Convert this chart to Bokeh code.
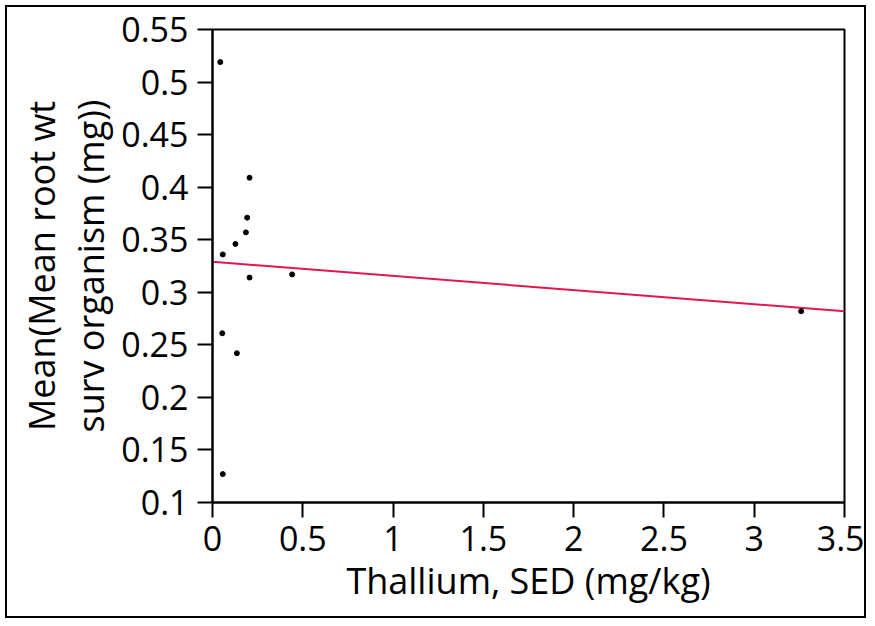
import numpy as np
from bokeh.plotting import figure
from bokeh.models import FixedTicker, Range1d
from bokeh.embed import file_html
from bokeh.resources import INLINE

# Data
thallium = [0.043, 0.205, 0.192, 0.185, 0.127, 0.057, 0.205, 0.441, 0.054, 0.135, 0.057, 3.26]
root_wt = [0.519, 0.409, 0.371, 0.357, 0.346, 0.336, 0.314, 0.317, 0.261, 0.242, 0.127, 0.282]

x_ticks = [0, 0.5, 1, 1.5, 2, 2.5, 3, 3.5]
x_tick_labels = ["0", "0.5", "1", "1.5", "2", "2.5", "3", "3.5"]
y_ticks = [0.1, 0.15, 0.2, 0.25, 0.3, 0.35, 0.4, 0.45, 0.5, 0.55]
y_tick_labels = ["0.1", "0.15", "0.2", "0.25", "0.3", "0.35", "0.4", "0.45", "0.5", "0.55"]

x_title = "Thallium, SED (mg/kg)"
y_title = "Mean(Mean root wt\nsurv organism (mg))"

FONT = "Open Sans"

p = figure(width=861, height=613, output_backend="svg", toolbar_location=None,
           x_range=Range1d(0, 3.5), y_range=Range1d(0.1, 0.55),
           min_border_left=205, min_border_right=24, min_border_top=22, min_border_bottom=118)
p.styles = {"border": "2px solid black", "margin": "5px"}
p.background_fill_color = "white"
p.border_fill_color = "white"
p.grid.visible = False
p.outline_line_color = "black"
p.outline_line_width = 2

for ax in (p.xaxis[0], p.yaxis[0]):
    ax.axis_line_width = 2
    ax.axis_line_color = "black"
    ax.major_tick_line_width = 2
    ax.major_tick_line_color = "black"
    ax.major_tick_out = 15
    ax.major_tick_in = 0
    ax.minor_tick_line_color = None
    ax.major_label_text_font = FONT
    ax.major_label_text_font_size = "34px"
    ax.major_label_text_color = "black"
    ax.axis_label_text_font = FONT
    ax.axis_label_text_font_size = "36px"
    ax.axis_label_text_font_style = "normal"
    ax.axis_label_text_color = "black"

p.yaxis[0].axis_label_text_line_height = 1.0

p.xaxis[0].ticker = FixedTicker(ticks=x_ticks)
p.xaxis[0].major_label_overrides = {t: l for t, l in zip(x_ticks, x_tick_labels)}
p.yaxis[0].ticker = FixedTicker(ticks=y_ticks)
p.yaxis[0].major_label_overrides = {t: l for t, l in zip(y_ticks, y_tick_labels)}
p.xaxis[0].axis_label = x_title
p.yaxis[0].axis_label = y_title
p.xaxis[0].major_label_standoff = 8
p.yaxis[0].major_label_standoff = 9
p.xaxis[0].axis_label_standoff = 2
p.yaxis[0].axis_label_standoff = 3

# least squares fit line
slope, intercept = np.polyfit(np.array(thallium), np.array(root_wt), 1)
fit_x = [x_ticks[0], x_ticks[-1]]
fit_y = [intercept + slope * v for v in fit_x]
p.line(fit_x, fit_y, line_color="#e3174f", line_width=2)

p.scatter(thallium, root_wt, size=5, color="black")

open("out.html", "w").write(file_html(p, INLINE))
